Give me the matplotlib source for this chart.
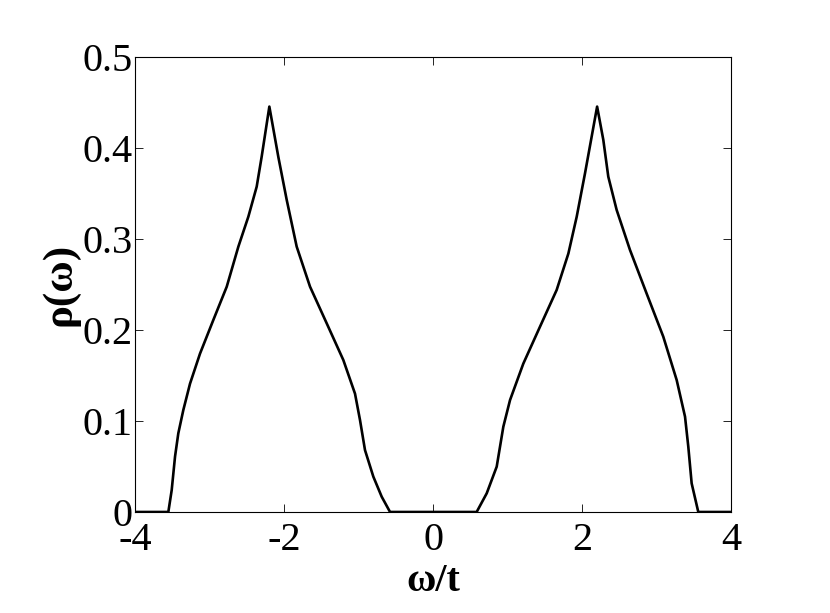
import numpy as np
import matplotlib.pyplot as plt

plt.rcParams['font.family'] = ['Liberation Serif', 'DejaVu Serif']
plt.rcParams['axes.unicode_minus'] = False

# density of states
w_vals = [-4.0, -3.553, -3.508, -3.463, -3.419, -3.352, -3.262, -3.128, -2.949,
          -2.769, -2.613, -2.479, -2.367, -2.300, -2.197, -2.076, -1.964, -1.830,
          -1.651, -1.427, -1.204, -1.047, -0.980, -0.913, -0.801, -0.689, -0.577,
          0.586, 0.721, 0.855, 0.944, 1.034, 1.212, 1.436, 1.660, 1.817, 1.929,
          2.040, 2.203, 2.286, 2.353, 2.465, 2.644, 2.868, 3.091, 3.271, 3.383,
          3.427, 3.472, 3.561, 4.0]
rho_vals = [0.0, 0.0, 0.024, 0.061, 0.0865, 0.112, 0.141, 0.174, 0.211,
            0.2476, 0.2916, 0.3245, 0.3575, 0.3905, 0.4455, 0.390, 0.343, 0.2916,
            0.2476, 0.2073, 0.167, 0.130, 0.101, 0.068, 0.0388, 0.0168, 0.0,
            0.0, 0.0205, 0.0498, 0.0937, 0.123, 0.163, 0.2036, 0.244, 0.284, 0.3245,
            0.372, 0.4455, 0.409, 0.3685, 0.332, 0.288, 0.240, 0.1927, 0.145, 0.1048,
            0.0718, 0.0315, 0.0, 0.0]

xticks = [-4, -2, 0, 2, 4]
yticks = [0, 0.1, 0.2, 0.3, 0.4, 0.5]
ytick_labels = ['0', '0.1', '0.2', '0.3', '0.4', '0.5']

fig = plt.figure(figsize=(8.3, 6.13), dpi=100)
ax = fig.add_axes([0.1627, 0.1648, 0.7180, 0.7422])

ax.plot(w_vals, rho_vals, color='black', lw=1.9)

ax.set_xlim(-4, 4)
ax.set_ylim(0, 0.5)
ax.set_xticks(xticks)
ax.set_xticklabels([str(v) for v in xticks])
ax.set_yticks(yticks)
ax.set_yticklabels(ytick_labels)
ax.tick_params(direction='in', length=6, width=0.6, top=True, right=True,
               labelsize=29)
ax.tick_params(axis='x', pad=7)
ax.tick_params(axis='y', pad=2)
for s in ax.spines.values():
    s.set_linewidth(0.8)

ax.set_xlabel('ω/t', fontsize=29, fontweight='bold', labelpad=3)
ax.set_ylabel('ρ(ω)', fontsize=31, fontweight='bold', labelpad=2)

fig.savefig('out.png', dpi=100)
